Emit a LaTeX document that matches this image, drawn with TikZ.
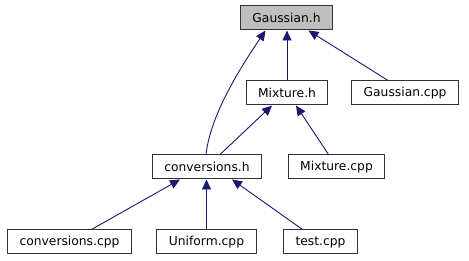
\documentclass[tikz,border=0pt]{standalone}
\usepackage{fontspec}
\setmainfont{DejaVu Sans}
\usetikzlibrary{arrows.meta}
\definecolor{midnightblue}{RGB}{25,25,112}
\definecolor{boxgray}{RGB}{191,191,191}

\begin{document}
\begin{tikzpicture}[x=1pt, y=-1pt,
    file/.style={draw=black!80, line width=1pt, fill=white, minimum height=24pt, inner xsep=12pt, inner ysep=0pt, font=\fontsize{12.3}{14}\selectfont},
    dep/.style={draw=midnightblue, line width=0.9pt, -{Triangle[length=10pt,width=9pt]}}]
    \useasboundingbox (0, 0) rectangle (469, 261);

    \node[file, fill=boxgray] (gauss_h) at (286.5, 18) {Gaussian.h};
    \node[file] (mix_h) at (287, 93) {Mixture.h};
    \node[file] (gauss_cpp) at (405, 93) {Gaussian.cpp};
    \node[file] (conv_h) at (207, 167) {conversions.h};
    \node[file] (mix_cpp) at (336.5, 167) {Mixture.cpp};
    \node[file] (conv_cpp) at (69.5, 242) {conversions.cpp};
    \node[file] (unif_cpp) at (206.5, 242) {Uniform.cpp};
    \node[file] (test_cpp) at (320.5, 242) {test.cpp};

    \draw[dep] ([xshift=-1pt]conv_h.north) .. controls (210, 120) and (232, 80) .. ([xshift=-21pt]gauss_h.south);
    \draw[dep] (mix_h.north) -- (mix_h.north |- gauss_h.south);
    \draw[dep] ([xshift=-17pt]gauss_cpp.north) -- ([xshift=22pt]gauss_h.south);
    \draw[dep] ([xshift=13pt]conv_h.north) -- ([xshift=-15pt]mix_h.south);
    \draw[dep] ([xshift=-8pt]mix_cpp.north) -- ([xshift=9pt]mix_h.south);
    \draw[dep] ([xshift=22pt]conv_cpp.north) -- ([xshift=-27pt]conv_h.south);
    \draw[dep] (unif_cpp.north) -- (unif_cpp.north |- conv_h.south);
    \draw[dep] ([xshift=-18pt]test_cpp.north) -- ([xshift=25pt]conv_h.south);
\end{tikzpicture}
\end{document}
